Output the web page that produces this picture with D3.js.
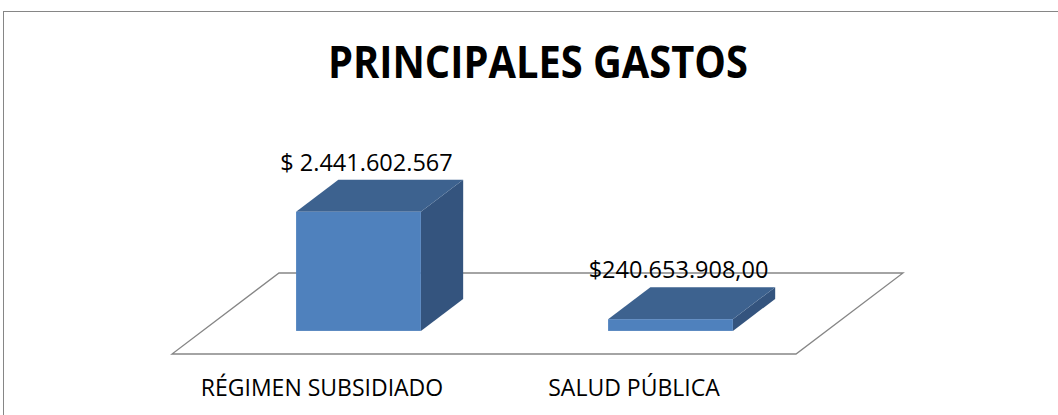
<!DOCTYPE html>
<html>
<head>
<meta charset="utf-8">
<script src="https://cdn.jsdelivr.net/npm/d3@7"></script>
<style>
  html, body { margin: 0; padding: 0; background: #fff; overflow: hidden; }
  svg { display: block; }
  text { font-family: "Open Sans", "Noto Sans", sans-serif; fill: #000; }
</style>
</head>
<body>
<svg id="chart" width="1058" height="415"></svg>
<script>
const categories = ["RÉGIMEN SUBSIDIADO", "SALUD PÚBLICA"];
const values = [2441602567, 240653908];
const valueLabels = ["$ 2.441.602.567", "$240.653.908,00"];
const title = "PRINCIPALES GASTOS";

const svg = d3.select("#chart");

// frame
svg.append("rect")
  .attr("x", 3.5).attr("y", 11.5)
  .attr("width", 1070).attr("height", 500)
  .attr("fill", "none")
  .attr("stroke", "#868686")
  .attr("stroke-width", 1);

// simple oblique projection: floor front edge, depth goes up-right
const floorY = 354;
const depthX = 107, depthY = 81;
const d0 = 0.285, d1 = 0.68;   // bar depth inside the floor

const x = d3.scaleBand()
  .domain(categories)
  .range([172, 796])
  .paddingInner(0.6)
  .paddingOuter(0.3);

const h = d3.scaleLinear().domain([0, 2.5e9]).range([0, 122]);

function proj(px, depth, height) {
  return [px + depth * depthX, floorY - depth * depthY - height];
}

// floor
const [fx0, fx1] = x.range();
const floorPts = [proj(fx0, 0, 0), proj(fx1, 0, 0), proj(fx1, 1, 0), proj(fx0, 1, 0)];
svg.append("polygon")
  .attr("points", floorPts.map(p => p.join(",")).join(" "))
  .attr("fill", "none")
  .attr("stroke", "#868686")
  .attr("stroke-width", 1.3);

// bars
const bars = svg.append("g").selectAll("g")
  .data(categories.map((c, i) => ({ cat: c, value: values[i], label: valueLabels[i] })))
  .join("g");

bars.append("polygon") // side
  .attr("fill", "#34547e")
  .attr("points", d => {
    const x1 = x(d.cat) + x.bandwidth(), hh = h(d.value);
    return [proj(x1, d0, 0), proj(x1, d0, hh), proj(x1, d1, hh), proj(x1, d1, 0)]
      .map(p => p.join(",")).join(" ");
  });

bars.append("polygon") // top
  .attr("fill", "#3d628f")
  .attr("points", d => {
    const x0 = x(d.cat), x1 = x0 + x.bandwidth(), hh = h(d.value);
    return [proj(x0, d0, hh), proj(x1, d0, hh), proj(x1, d1, hh), proj(x0, d1, hh)]
      .map(p => p.join(",")).join(" ");
  });

bars.append("rect") // front
  .attr("fill", "#4f81bd")
  .attr("x", d => proj(x(d.cat), d0, 0)[0])
  .attr("y", d => proj(x(d.cat), d0, h(d.value))[1])
  .attr("width", x.bandwidth())
  .attr("height", d => h(d.value));

// value labels
bars.append("text")
  .attr("text-anchor", "middle")
  .attr("font-size", 23.5)
  .attr("x", d => proj(x(d.cat) + x.bandwidth() / 2, d0, 0)[0] + 8)
  .attr("y", d => proj(x(d.cat), d1, h(d.value))[1] - 9)
  .text(d => d.label);

// category labels
svg.append("g").selectAll("text")
  .data(categories)
  .join("text")
  .attr("text-anchor", "middle")
  .attr("font-size", 23)
  .attr("x", d => x(d) + x.bandwidth() / 2 - 6)
  .attr("y", 396)
  .text(d => d);

// title
svg.append("text")
  .attr("text-anchor", "middle")
  .attr("font-size", 44)
  .attr("font-weight", "bold")
  .attr("x", 538)
  .attr("y", 78)
  .attr("textLength", 420)
  .attr("lengthAdjust", "spacingAndGlyphs")
  .text(title);
</script>
</body>
</html>
